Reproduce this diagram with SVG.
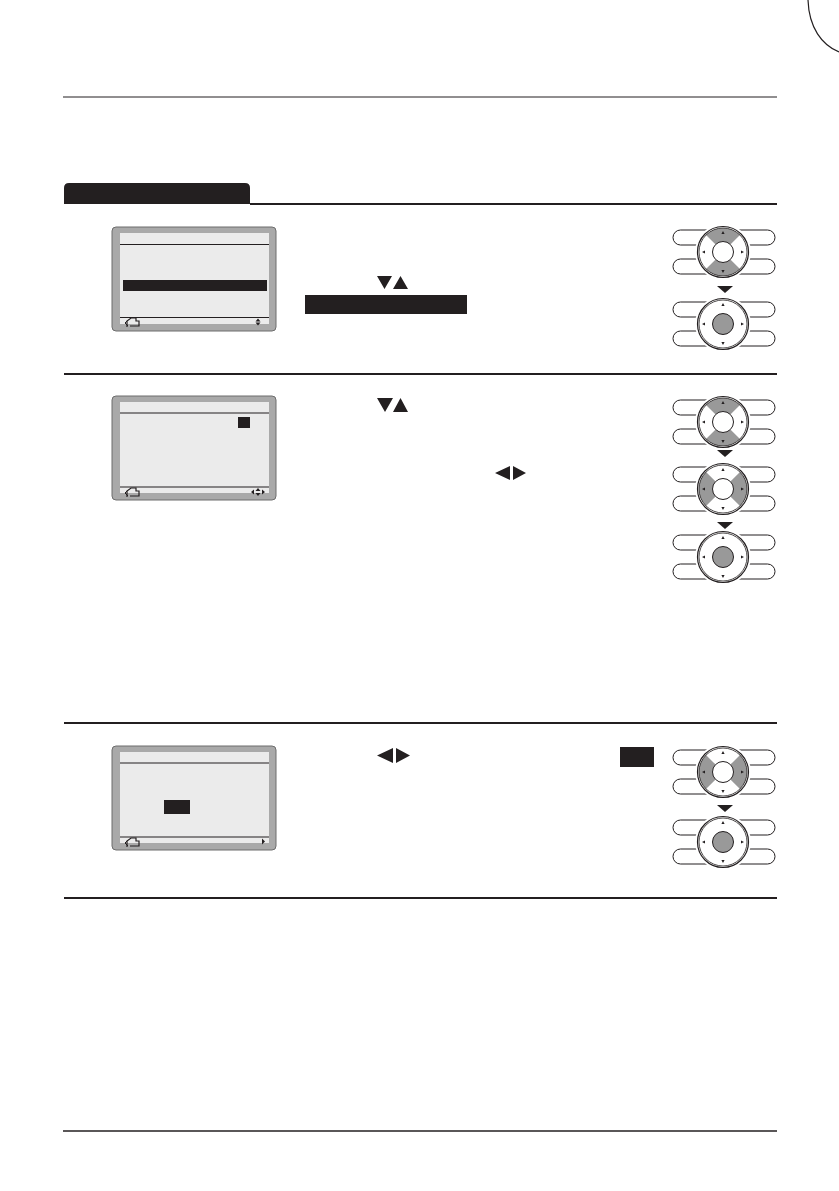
<svg xmlns="http://www.w3.org/2000/svg" xmlns:xlink="http://www.w3.org/1999/xlink" width="839" height="1191" viewBox="0 0 839 1191">
<style>
.rule{stroke:#231f20;fill:none}
.frame{fill:#a9a9a9;stroke:#6d6d6d;stroke-width:1}
.lcd{fill:#ebebeb}
.lcdline{stroke:#231f20;stroke-width:1.2}
.blk{fill:#231f20}
.pill{fill:#fff;stroke:#231f20;stroke-width:1}
.ring{fill:#fff;stroke:#231f20;stroke-width:1.2}
.ring2{fill:none;stroke:#231f20;stroke-width:0.8}
.sec{fill:#999}
.btn{fill:#fff;stroke:#231f20;stroke-width:1}
.btn.on{fill:#999}
</style>
<defs>
<g id="ctrlBase">
<rect class="pill" x="-50" y="-22" width="54" height="15" rx="7.5"/>
<rect class="pill" x="-50" y="7" width="54" height="15" rx="7.5"/>
<rect class="pill" x="-4" y="-22" width="56" height="15" rx="7.5"/>
<rect class="pill" x="-4" y="7" width="56" height="15" rx="7.5"/>
<circle r="28" fill="#fff"/>
<circle class="ring" r="25.5"/>
</g>
<g id="ctrlTop">
<circle class="ring2" r="24"/>
<path class="blk" d="M0,-21 L1.6,-18 L-1.6,-18 Z M0,21 L1.6,18 L-1.6,18 Z M-21,0 L-18,1.6 L-18,-1.6 Z M21,0 L18,1.6 L18,-1.6 Z"/>
</g>
<path id="secUD" class="sec" d="M-17,-17 A24,24 0 0 1 17,-17 L7.4,-7.4 A10.5,10.5 0 0 0 -7.4,-7.4 Z M17,17 A24,24 0 0 1 -17,17 L-7.4,7.4 A10.5,10.5 0 0 0 7.4,7.4 Z"/>
<path id="secLR" class="sec" d="M-17,17 A24,24 0 0 1 -17,-17 L-7.4,-7.4 A10.5,10.5 0 0 0 -7.4,7.4 Z M17,-17 A24,24 0 0 1 17,17 L7.4,7.4 A10.5,10.5 0 0 0 7.4,-7.4 Z"/>
<path id="dnArrow" class="blk" d="M-8,0 L8,0 L0,7 Z"/>
<g id="retIcon">
<path d="M0,5 L0,-1 L4,-4 L9,-4 L9,-1 L12,-1 L12,4 L3,4" fill="none" stroke="#231f20" stroke-width="1.2"/>
<path d="M1,-2 L-2,1 L1,4" fill="none" stroke="#231f20" stroke-width="1"/>
</g>
</defs>

<!-- page decoration -->
<path class="rule" d="M808,0 C809,28 822,45 839,52" stroke-width="1.2"/>
<line class="rule" x1="63" y1="97" x2="777" y2="97" stroke-width="1"/>

<!-- section header -->
<g id="sectionHeader">
<path class="blk" d="M64,204 L64,188 Q64,183 69,183 L245,183 Q250,183 250,188 L250,204 Z"/>
<line class="rule" x1="250" y1="204" x2="777" y2="204" stroke-width="2"/>
</g>

<!-- step separators -->
<g id="separators">
<line class="rule" x1="64" y1="374" x2="777" y2="374" stroke-width="1.8"/>
<line class="rule" x1="64" y1="723" x2="777" y2="723" stroke-width="1.8"/>
<line class="rule" x1="64" y1="898" x2="777" y2="898" stroke-width="1.8"/>
<line class="rule" x1="63" y1="1131" x2="777" y2="1131" stroke-width="1.5"/>
</g>

<!-- Step 1 -->
<g id="screen1">
<rect class="frame" x="112" y="227" width="164" height="104" rx="4"/>
<rect class="lcd" x="120" y="233" width="149" height="91"/>
<line class="lcdline" x1="120" y1="244.5" x2="269" y2="244.5"/>
<rect class="blk" x="123" y="280" width="144" height="11"/>
<line class="lcdline" x1="120" y1="317.5" x2="269" y2="317.5"/>
<use xlink:href="#retIcon" x="127" y="322"/>
<path class="blk" d="M258,318.5 L260.5,321.5 L255.5,321.5 Z M258,325.5 L260.5,322.5 L255.5,322.5 Z"/>
</g>
<g id="step1Text">
<path class="blk" d="M377,276 L392,276 L384.5,289 Z M393,289 L400.5,276 L408,289 Z"/>
<rect class="blk" x="305" y="295" width="162" height="19"/>
</g>
<g id="ctrl1a" transform="translate(723,252)">
<use xlink:href="#ctrlBase"/><use xlink:href="#secUD"/><use xlink:href="#ctrlTop"/>
<circle class="btn" r="10.5"/>
</g>
<use xlink:href="#dnArrow" x="725" y="286"/>
<g id="ctrl1b" transform="translate(723,324)">
<use xlink:href="#ctrlBase"/><use xlink:href="#ctrlTop"/>
<circle class="btn on" r="10.5"/>
</g>

<!-- Step 2 -->
<g id="screen2">
<rect class="frame" x="112" y="396" width="164" height="104" rx="4"/>
<rect class="lcd" x="120" y="402" width="149" height="91"/>
<line class="lcdline" x1="120" y1="413" x2="269" y2="413"/>
<rect class="blk" x="238" y="417" width="12" height="11"/>
<line class="lcdline" x1="120" y1="487" x2="269" y2="487"/>
<use xlink:href="#retIcon" x="127" y="492"/>
<path class="blk" d="M258,488 L260.5,491 L255.5,491 Z M258,496 L260.5,493 L255.5,493 Z M251,492 L254,489.5 L254,494.5 Z M265,492 L262,489.5 L262,494.5 Z"/>
</g>
<g id="step2Text">
<path class="blk" d="M377,398 L393,398 L385,412 Z M393,412 L400.5,398 L408,412 Z"/>
<path class="blk" d="M510,466 L510,480 L495,473 Z M513,466 L526,473 L513,480 Z"/>
</g>
<g id="ctrl2a" transform="translate(723,422)">
<use xlink:href="#ctrlBase"/><use xlink:href="#secUD"/><use xlink:href="#ctrlTop"/>
<circle class="btn" r="10.5"/>
</g>
<use xlink:href="#dnArrow" x="725" y="450"/>
<g id="ctrl2b" transform="translate(723,489)">
<use xlink:href="#ctrlBase"/><use xlink:href="#secLR"/><use xlink:href="#ctrlTop"/>
<circle class="btn" r="10.5"/>
</g>
<use xlink:href="#dnArrow" x="725" y="522"/>
<g id="ctrl2c" transform="translate(723,557)">
<use xlink:href="#ctrlBase"/><use xlink:href="#ctrlTop"/>
<circle class="btn on" r="10.5"/>
</g>

<!-- Step 3 -->
<g id="screen3">
<rect class="frame" x="112" y="746" width="164" height="104" rx="4"/>
<rect class="lcd" x="120" y="752" width="149" height="91"/>
<line class="lcdline" x1="120" y1="763" x2="269" y2="763"/>
<rect class="blk" x="164" y="800" width="26" height="14"/>
<line class="lcdline" x1="120" y1="837" x2="269" y2="837"/>
<use xlink:href="#retIcon" x="127" y="842"/>
<path class="blk" d="M262,838.5 L265,841.5 L262,844.5 Z"/>
</g>
<g id="step3Text">
<path class="blk" d="M393,748 L393,763 L377,755.5 Z M396,748 L410,755.5 L396,763 Z"/>
<rect class="blk" x="620" y="747" width="34" height="20"/>
</g>
<g id="ctrl3a" transform="translate(723,772)">
<use xlink:href="#ctrlBase"/><use xlink:href="#secLR"/><use xlink:href="#ctrlTop"/>
<circle class="btn" r="10.5"/>
</g>
<use xlink:href="#dnArrow" x="725" y="805"/>
<g id="ctrl3b" transform="translate(723,842)">
<use xlink:href="#ctrlBase"/><use xlink:href="#ctrlTop"/>
<circle class="btn on" r="10.5"/>
</g>
</svg>
